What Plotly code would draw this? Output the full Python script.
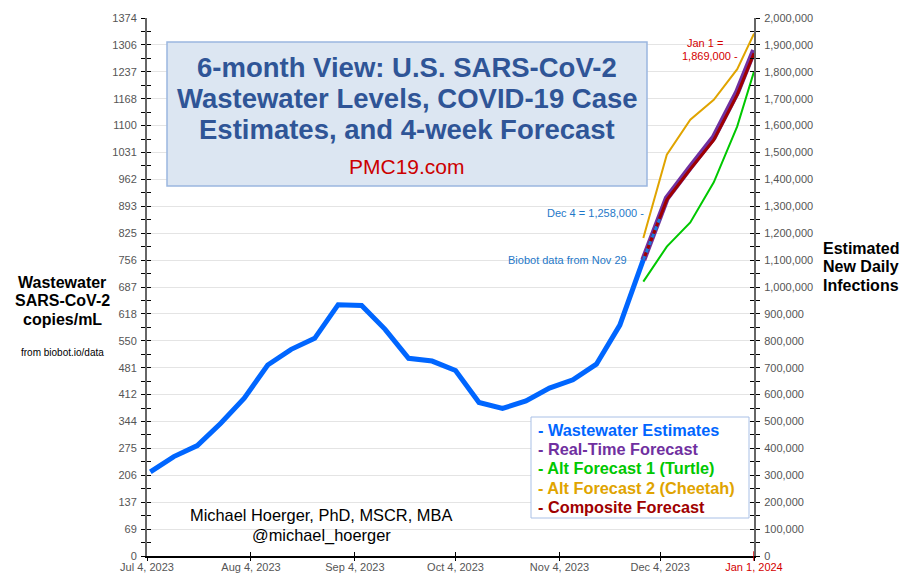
import plotly.graph_objects as go

# ---------------- data ----------------
ww_dates = ["2023-07-05", "2023-07-12", "2023-07-19", "2023-07-26", "2023-08-02", "2023-08-09",
            "2023-08-16", "2023-08-23", "2023-08-30", "2023-09-06", "2023-09-13", "2023-09-20",
            "2023-09-27", "2023-10-04", "2023-10-11", "2023-10-18", "2023-10-25", "2023-11-01",
            "2023-11-08", "2023-11-15", "2023-11-22", "2023-11-29"]
ww_values = [215, 254, 282, 339, 403, 488, 528, 556, 642, 640, 579, 505,
             498, 474, 392, 377, 396, 429, 450, 490, 590, 757]

fc_dates = ["2023-11-29", "2023-12-06", "2023-12-13", "2023-12-20", "2023-12-27", "2024-01-01"]
realtime = [1101000, 1330000, 1445000, 1556000, 1725000, 1880000]
turtle = [1020000, 1150000, 1240000, 1389000, 1597000, 1801000]
cheetah = [1182000, 1492000, 1622000, 1696000, 1810000, 1942000]
composite = [1101000, 1324000, 1438000, 1547000, 1715000, 1869000]

ext_dates = ["2023-11-29", "2023-12-04"]
ext_values = [1101000, 1258000]

x_tickvals = ["2023-07-04", "2023-08-04", "2023-09-04", "2023-10-04", "2023-11-04", "2023-12-04", "2024-01-01"]
x_ticktext = ["Jul 4, 2023", "Aug 4, 2023", "Sep 4, 2023", "Oct 4, 2023", "Nov 4, 2023", "Dec 4, 2023",
              "<span style='color:#d40000'>Jan 1, 2024</span>"]

left_max = 1374.4
left_step = 68.72
right_max = 2000000
right_step = 100000

legend_items = ["- Wastewater Estimates", "- Real-Time Forecast", "- Alt Forecast 1 (Turtle)",
                "- Alt Forecast 2 (Cheetah)", "- Composite Forecast"]
legend_colors = ["#0066ff", "#7030a0", "#00c800", "#e0a400", "#a00000"]

FONT = "Liberation Sans, Arial, sans-serif"

# ---------------- figure ----------------
fig = go.Figure()
fig.add_trace(go.Scatter(x=ww_dates, y=ww_values, mode="lines", line=dict(color="#0066ff", width=5),
                         showlegend=False, yaxis="y", cliponaxis=True))
fig.add_trace(go.Scatter(x=fc_dates, y=turtle, mode="lines", line=dict(color="#00c800", width=2),
                         showlegend=False, yaxis="y2"))
fig.add_trace(go.Scatter(x=fc_dates, y=cheetah, mode="lines", line=dict(color="#e0a400", width=2),
                         showlegend=False, yaxis="y2"))
fig.add_trace(go.Scatter(x=fc_dates, y=realtime, mode="lines", line=dict(color="#7030a0", width=6),
                         showlegend=False, yaxis="y2"))
fig.add_trace(go.Scatter(x=fc_dates, y=composite, mode="lines", line=dict(color="#a00000", width=3),
                         showlegend=False, yaxis="y2"))
fig.add_trace(go.Scatter(x=ext_dates, y=ext_values, mode="lines",
                         line=dict(color="#1a7ae0", width=3, dash="4px,4px"),
                         showlegend=False, yaxis="y2"))
# dummy traces to activate overlay axes (for crossing tick marks)
fig.add_trace(go.Scatter(x=[None], y=[None], xaxis="x2", yaxis="y3", showlegend=False, hoverinfo="skip"))
fig.add_trace(go.Scatter(x=[None], y=[None], xaxis="x", yaxis="y4", showlegend=False, hoverinfo="skip"))

xrange = ["2023-07-04", "2024-01-01"]
tickfont = dict(family=FONT, size=11, color="#555555")

fig.update_layout(
    width=903, height=575,
    margin=dict(l=147, r=149, t=18, b=19, autoexpand=False),
    paper_bgcolor="white", plot_bgcolor="white",
    font=dict(family=FONT),
    xaxis=dict(type="date", range=xrange, tickvals=x_tickvals, ticktext=x_ticktext,
               ticks="inside", ticklen=4, tickcolor="black", tickwidth=1,
               showline=True, linecolor="black", linewidth=1.5, showgrid=False, zeroline=False,
               tickfont=tickfont, automargin=False, ticklabelstandoff=0),
    xaxis2=dict(type="date", range=xrange, overlaying="x", anchor="y", side="bottom",
                tickvals=x_tickvals, ticks="outside", ticklen=4, tickcolor="black",
                showticklabels=False, showline=False, showgrid=False, zeroline=False),
    yaxis=dict(range=[0, left_max], tick0=0, dtick=left_step, tickformat=".0f",
               ticks="outside", ticklen=4, tickcolor="black",
               minor=dict(ticks="outside", ticklen=4, dtick=left_step / 2, tick0=0, tickcolor="black"),
               showline=True, linecolor="#666666", linewidth=2,
               showgrid=True, gridcolor="#e4e4e4", gridwidth=1, zeroline=False,
               tickfont=tickfont, automargin=False, ticklabelstandoff=2),
    yaxis3=dict(range=[0, left_max], overlaying="y", anchor="x", side="left", tick0=0, dtick=left_step,
                ticks="inside", ticklen=4, tickcolor="black",
                minor=dict(ticks="inside", ticklen=4, dtick=left_step / 2, tick0=0, tickcolor="black"),
                showticklabels=False, showline=False, showgrid=False, zeroline=False),
    yaxis2=dict(range=[0, right_max], overlaying="y", anchor="x", side="right", tick0=0, dtick=right_step,
                tickformat=",", ticks="outside", ticklen=4, tickcolor="black",
                minor=dict(ticks="outside", ticklen=4, dtick=right_step / 2, tick0=0, tickcolor="black"),
                showline=True, linecolor="#666666", linewidth=2, showgrid=False, zeroline=False,
                tickfont=tickfont, automargin=False, ticklabelstandoff=2),
    yaxis4=dict(range=[0, right_max], overlaying="y", anchor="x", side="right", tick0=0, dtick=right_step,
                ticks="inside", ticklen=4, tickcolor="black",
                minor=dict(ticks="inside", ticklen=4, dtick=right_step / 2, tick0=0, tickcolor="black"),
                showticklabels=False, showline=False, showgrid=False, zeroline=False),
)

# plot area in pixels: x 147..754, y 18..556
def px(x):
    return (x - 147) / 607.0

def py(y):
    return (556 - y) / 538.0

def text(x, y, s, size, color="black", bold=False, xanchor="center"):
    if bold:
        s = "<b>" + s + "</b>"
    fig.add_annotation(x=px(x), y=py(y), xref="paper", yref="paper", text=s, showarrow=False,
                       xanchor=xanchor, yanchor="middle",
                       font=dict(family=FONT, size=size, color=color))

# red tick at Jan 1
fig.add_shape(type="line", xref="x", yref="paper", x0="2024-01-01", x1="2024-01-01",
              y0=-0.009, y1=0.009, line=dict(color="#d40000", width=1.5))

# title box
fig.add_shape(type="rect", xref="paper", yref="paper", x0=px(167), x1=px(647), y0=py(186), y1=py(42),
              fillcolor="#dce6f2", line=dict(color="#9bb7e0", width=1.5), layer="above")
title_lines = ["6-month View: U.S. SARS-CoV-2", "Wastewater Levels, COVID-19 Case",
               "Estimates, and 4-week Forecast"]
for i, t in enumerate(title_lines):
    text(407, 68 + 30.5 * i, t, 27.5, color="#2f5597", bold=True)
text(407, 166, "PMC19.com", 21, color="#cc0000")

# legend box
fig.add_shape(type="rect", xref="paper", yref="paper", x0=px(531), x1=px(749), y0=py(518), y1=py(417),
              fillcolor="white", line=dict(color="#a9c0e6", width=1), layer="above")
for i, (t, c) in enumerate(zip(legend_items, legend_colors)):
    text(536, 430 + 19.2 * i, t, 16.3, color=c, bold=True, xanchor="left")

# axis titles
for i, t in enumerate(["Wastewater", "SARS-CoV-2", "copies/mL"]):
    text(62, 282 + 18.5 * i, t, 16, bold=True)
text(62, 352, "from biobot.io/data", 10)
for i, t in enumerate(["Estimated", "New Daily", "Infections"]):
    text(861, 248 + 18.5 * i, t, 16, bold=True)

# author
text(321, 515, "Michael Hoerger, PhD, MSCR, MBA", 16.4)
text(321, 535, "@michael_hoerger", 16.4)

# point annotations
text(646, 213, "Dec 4 = 1,258,000 -", 11, color="#1f78c8", xanchor="right")
text(629, 260, "Biobot data from Nov 29", 11, color="#1f78c8", xanchor="right")
text(705, 43, "Jan 1 =", 11, color="#d40000")
text(710, 56, "1,869,000 -", 11, color="#d40000")

fig.write_html("out.html", config={"displayModeBar": False},
               post_script="document.body.style.margin='0px';")
